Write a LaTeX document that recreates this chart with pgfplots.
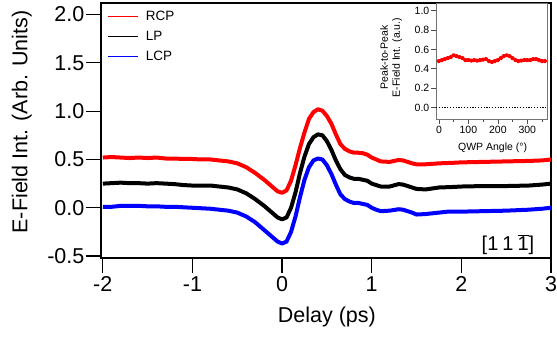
\documentclass[border=0pt]{standalone}
\usepackage{fontspec}
\setmainfont{Liberation Sans}
\usepackage{pgfplots}
\pgfplotsset{compat=1.18}
\definecolor{myred}{RGB}{255,0,0}
\definecolor{myblue}{RGB}{0,0,255}
\begin{document}
\begin{tikzpicture}
\useasboundingbox (-101bp,-85bp) rectangle (456bp,258bp);
\begin{axis}[
  at={(0,0)}, anchor=south west,
  scale only axis, width=450bp, height=255bp,
  xmin=-2.02, xmax=3, ymin=-0.52, ymax=2.12,
  xtick={-2,-1,0,1,2,3},
  ytick={-0.5,0,0.5,1,1.5,2},
  tick pos=left, tick align=outside,
  major tick length=15bp,
  every tick/.style={black, line width=1.2bp},
  axis line style={line width=1.2bp},
  /pgf/number format/assume math mode=true,
  tick label style={font=\fontsize{21.5bp}{24bp}\selectfont},
  yticklabel style={inner sep=1.5bp, /pgf/number format/.cd, fixed, fixed zerofill, precision=1},
  xticklabel style={/pgf/number format/.cd, fixed, precision=0},
  label style={font=\fontsize{21.5bp}{24bp}\selectfont},
  xlabel={Delay (ps)},
  ylabel={E-Field Int. (Arb. Units)},
  xlabel style={at={(axis description cs:0.502,-0.231)}, anchor=center},
  ylabel style={at={(axis description cs:-0.176,0.533)}, anchor=center},
  legend style={draw=none, fill=none, at={(0,1)}, anchor=north west,
    xshift=6bp, yshift=-6bp, inner sep=0pt, row sep=5bp,
    font=\fontsize{13.5bp}{16bp}\selectfont},
  legend cell align=left,
]
\addplot[myred, line width=4bp, line join=round,
  legend image code/.code={\draw[myred, line width=1.6bp] (0bp,0bp) -- (30bp,0bp); \path (34bp,0bp);}] coordinates {
(-2.0,0.52) (-1.9,0.525) (-1.8,0.52) (-1.7,0.515) (-1.6,0.52) (-1.5,0.515) (-1.4,0.52) (-1.3,0.51) (-1.2,0.51)
(-1.1,0.505) (-1.0,0.505) (-0.9,0.50) (-0.8,0.50) (-0.7,0.49) (-0.6,0.48) (-0.5,0.46) (-0.4,0.42) (-0.3,0.36)
(-0.2,0.29) (-0.1,0.21) (-0.05,0.17) (0.0,0.155) (0.05,0.18) (0.1,0.28) (0.15,0.44) (0.2,0.62) (0.25,0.78)
(0.3,0.92) (0.35,0.99) (0.4,1.02) (0.45,1.005) (0.5,0.95) (0.55,0.87) (0.6,0.76) (0.65,0.66) (0.7,0.61)
(0.75,0.585) (0.8,0.57) (0.85,0.57) (0.9,0.565) (0.95,0.55) (1.0,0.52) (1.05,0.50) (1.1,0.48) (1.2,0.475)
(1.3,0.495) (1.35,0.49) (1.45,0.46) (1.5,0.45) (1.6,0.45) (1.75,0.46) (1.9,0.465) (2.0,0.47) (2.25,0.475)
(2.5,0.48) (2.75,0.485) (2.9,0.49) (3.0,0.50)};
\addlegendentry{RCP}
\addplot[black, line width=4bp, line join=round,
  legend image code/.code={\draw[black, line width=1.6bp] (0bp,0bp) -- (30bp,0bp); \path (34bp,0bp);}] coordinates {
(-2.0,0.25) (-1.9,0.255) (-1.8,0.26) (-1.7,0.255) (-1.6,0.255) (-1.5,0.25) (-1.4,0.255) (-1.3,0.25) (-1.2,0.245)
(-1.1,0.235) (-1.0,0.23) (-0.9,0.23) (-0.8,0.23) (-0.7,0.22) (-0.6,0.21) (-0.5,0.19) (-0.4,0.15) (-0.3,0.09)
(-0.2,0.02) (-0.1,-0.06) (-0.05,-0.10) (0.0,-0.12) (0.05,-0.10) (0.1,0.0) (0.15,0.16) (0.2,0.36) (0.25,0.53)
(0.3,0.66) (0.35,0.73) (0.4,0.76) (0.45,0.75) (0.5,0.69) (0.55,0.60) (0.6,0.49) (0.65,0.40) (0.7,0.34)
(0.75,0.315) (0.8,0.30) (0.85,0.30) (0.9,0.29) (0.95,0.28) (1.0,0.25) (1.05,0.235) (1.1,0.22) (1.2,0.22)
(1.3,0.245) (1.35,0.24) (1.45,0.21) (1.5,0.195) (1.6,0.19) (1.75,0.21) (1.9,0.215) (2.0,0.22) (2.25,0.225)
(2.5,0.225) (2.75,0.23) (2.9,0.24) (3.0,0.25)};
\addlegendentry{LP}
\addplot[myblue, line width=4bp, line join=round,
  legend image code/.code={\draw[myblue, line width=1.6bp] (0bp,0bp) -- (30bp,0bp); \path (34bp,0bp);}] coordinates {
(-2.0,0.01) (-1.9,0.01) (-1.8,0.02) (-1.7,0.02) (-1.6,0.02) (-1.5,0.015) (-1.4,0.015) (-1.3,0.01) (-1.2,0.01)
(-1.1,0.005) (-1.0,0.0) (-0.9,-0.005) (-0.8,-0.01) (-0.7,-0.02) (-0.6,-0.03) (-0.5,-0.05) (-0.4,-0.09) (-0.3,-0.15)
(-0.2,-0.23) (-0.1,-0.31) (-0.05,-0.35) (0.0,-0.37) (0.05,-0.35) (0.1,-0.25) (0.15,-0.09) (0.2,0.11) (0.25,0.29)
(0.3,0.42) (0.35,0.49) (0.4,0.51) (0.45,0.50) (0.5,0.44) (0.55,0.35) (0.6,0.24) (0.65,0.14) (0.7,0.09)
(0.75,0.065) (0.8,0.05) (0.85,0.05) (0.9,0.04) (0.95,0.03) (1.0,0.0) (1.05,-0.02) (1.1,-0.035) (1.2,-0.03)
(1.3,-0.015) (1.35,-0.02) (1.45,-0.05) (1.5,-0.07) (1.6,-0.065) (1.75,-0.05) (1.85,-0.04) (2.0,-0.04) (2.25,-0.035)
(2.5,-0.03) (2.75,-0.02) (2.9,-0.01) (3.0,0.0)};
\addlegendentry{LCP}
\node[font=\fontsize{20bp}{24bp}\selectfont, anchor=center] at (axis cs:2.52,-0.385) {[1\hspace{4bp}1\hspace{4bp}\ensuremath{\overline{\mbox{1}}}]};
\end{axis}
\begin{axis}[
  at={(335bp,139bp)}, anchor=south west,
  scale only axis, width=111bp, height=116bp,
  xmin=-10, xmax=367, ymin=-0.119, ymax=1.08,
  xtick={0,100,200,300}, minor xtick={50,150,250,350},
  ytick={0,0.2,0.4,0.6,0.8,1.0},
  tick pos=left, tick align=outside,
  major tick length=5bp, minor tick length=3bp,
  every tick/.style={black!70, line width=0.6bp},
  axis line style={black!55, line width=0.6bp},
  axis background/.style={fill=white},
  /pgf/number format/assume math mode=true,
  tick label style={font=\fontsize{10.5bp}{12bp}\selectfont, inner sep=1.5bp},
  yticklabel style={/pgf/number format/.cd, fixed, fixed zerofill, precision=1},
  xticklabel style={/pgf/number format/.cd, fixed, precision=0},
  label style={font=\fontsize{10.5bp}{12bp}\selectfont},
  xlabel={QWP Angle (°)},
  ylabel={Peak-to-Peak\\E-Field Int. (a.u.)},
  xlabel style={at={(axis description cs:0.51,-0.25)}, anchor=center},
  ylabel style={at={(axis description cs:-0.405,0.53)}, anchor=center, align=center},
]
\addplot[black, line width=1.2bp, dash pattern=on 1.2bp off 1.6bp] coordinates {(-10,0) (367,0)};
\addplot[myred, line width=2.2bp, mark=*, mark size=1.2bp, line join=round] coordinates {
(0,0.48) (10,0.49) (20,0.50) (30,0.51) (40,0.52) (50,0.54) (60,0.53) (70,0.52) (80,0.51) (90,0.49)
(100,0.49) (110,0.485) (120,0.49) (130,0.485) (140,0.49) (150,0.495) (160,0.50) (170,0.48) (180,0.47)
(190,0.48) (200,0.49) (210,0.51) (220,0.53) (230,0.54) (240,0.53) (250,0.51) (260,0.49) (270,0.48)
(280,0.485) (290,0.49) (300,0.49) (310,0.49) (320,0.50) (330,0.50) (340,0.49) (350,0.48) (360,0.48)};
\end{axis}
\end{tikzpicture}
\end{document}
